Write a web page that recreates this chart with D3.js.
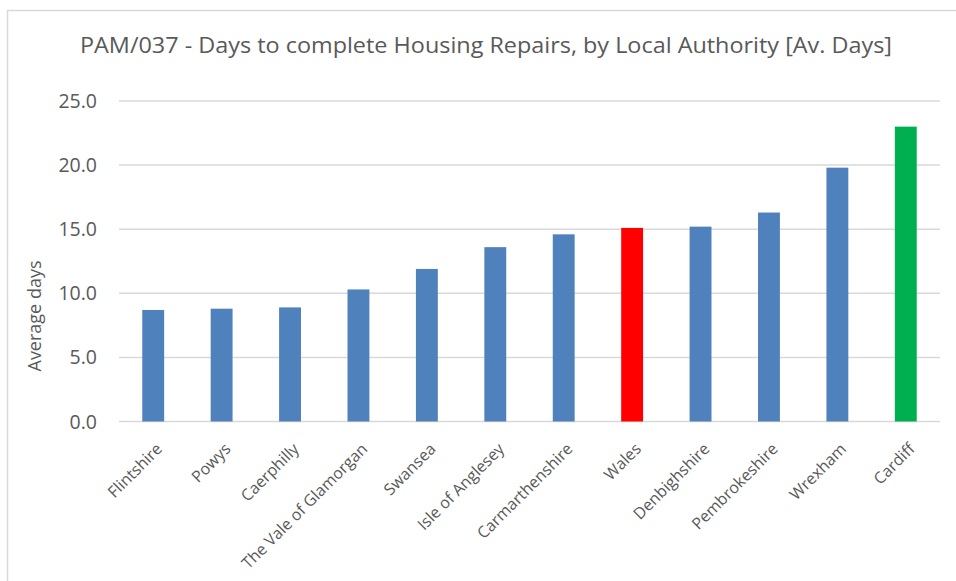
<!DOCTYPE html>
<html>
<head>
<meta charset="utf-8">
<script src="https://cdn.jsdelivr.net/npm/d3@7"></script>
<style>
  body { margin: 0; background: #fff; }
  svg text { font-family: "Open Sans", "Noto Sans", sans-serif; fill: #595959; }
</style>
</head>
<body>
<div id="chart"></div>
<script>
let authorities = ['Flintshire', 'Powys', 'Caerphilly', 'The Vale of Glamorgan', 'Swansea', 'Isle of Anglesey',
  'Carmarthenshire', 'Wales', 'Denbighshire', 'Pembrokeshire', 'Wrexham', 'Cardiff']
let avgDays = [8.7, 8.8, 8.9, 10.3, 11.9, 13.6, 14.6, 15.1, 15.2, 16.3, 19.8, 23.0]
let barColours = ['#4f81bd', '#4f81bd', '#4f81bd', '#4f81bd', '#4f81bd', '#4f81bd',
  '#4f81bd', '#ff0000', '#4f81bd', '#4f81bd', '#4f81bd', '#00b050']
let yTicks = [0, 5, 10, 15, 20, 25]
let chartTitle = 'PAM/037 - Days to complete Housing Repairs, by Local Authority [Av. Days]'
let yTitle = 'Average days'

let width = 956
let height = 581
let plotLeft = 119, plotRight = 940, plotTop = 101, plotBottom = 421.5

let svg = d3.select('#chart').append('svg')
  .attr('width', width)
  .attr('height', height)

// chart frame (only left and top edges are visible in the reference)
svg.append('rect')
  .attr('x', 7.5).attr('y', 10.5)
  .attr('width', 1000).attr('height', 700)
  .attr('fill', 'none')
  .attr('stroke', '#d9d9d9')
  .attr('stroke-width', 1.5)

let x = d3.scaleBand().domain(authorities).range([plotLeft, plotRight]).paddingInner(0.68).paddingOuter(0.34)
let y = d3.scaleLinear().domain([0, 25]).range([plotBottom, plotTop])

// gridlines
svg.append('g')
  .selectAll('line')
  .data(yTicks)
  .enter()
  .append('line')
  .attr('x1', plotLeft).attr('x2', plotRight)
  .attr('y1', d => y(d)).attr('y2', d => y(d))
  .attr('stroke', '#d9d9d9')
  .attr('stroke-width', 1.5)

// y tick labels
svg.append('g')
  .selectAll('text')
  .data(yTicks)
  .enter()
  .append('text')
  .attr('x', 97)
  .attr('y', d => y(d))
  .attr('dy', '0.36em')
  .attr('text-anchor', 'end')
  .style('font-size', '19.5px')
  .text(d => d.toFixed(1))

// bars
svg.append('g')
  .selectAll('rect')
  .data(avgDays)
  .enter()
  .append('rect')
  .attr('x', (d, i) => x(authorities[i]))
  .attr('y', d => y(d))
  .attr('width', x.bandwidth())
  .attr('height', d => y(0) - y(d))
  .attr('fill', (d, i) => barColours[i])

// x labels, rotated
svg.append('g')
  .selectAll('text')
  .data(authorities)
  .enter()
  .append('text')
  .attr('transform', d => 'translate(' + (x(d) + x.bandwidth() / 2 + 6) + ',' + 446 + ') rotate(-45)')
  .attr('text-anchor', 'end')
  .attr('dy', '0.35em')
  .style('font-size', '16px')
  .text(d => d)

// y axis title
svg.append('text')
  .attr('transform', 'translate(41,316) rotate(-90)')
  .attr('text-anchor', 'middle')
  .style('font-size', '18px')
  .text(yTitle)

// title
svg.append('text')
  .attr('x', 486)
  .attr('y', 53)
  .attr('text-anchor', 'middle')
  .attr('textLength', 812)
  .attr('lengthAdjust', 'spacingAndGlyphs')
  .style('font-size', '22px')
  .text(chartTitle)
</script>
</body>
</html>
